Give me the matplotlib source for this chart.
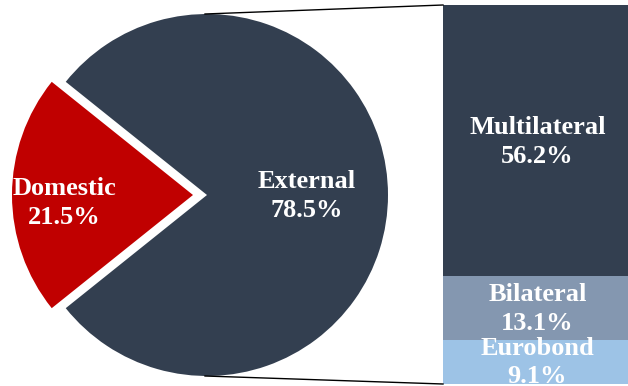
import numpy as np
import matplotlib.pyplot as plt
from matplotlib.patches import Rectangle

# pie: total debt split
pie_labels = ["Domestic", "External"]
pie_values = [21.5, 78.5]
pie_colors = ["#C00000", "#333F50"]

# bar: breakdown of external debt, bottom to top
bar_labels = ["Other", "Eurobond", "Bilateral", "Multilateral"]
bar_values = [0.1, 9.1, 13.1, 56.2]
bar_colors = ["#ED7D31", "#9DC3E6", "#8497B0", "#333F50"]

plt.rcParams['font.family'] = ['Liberation Serif', 'DejaVu Serif']

W, H = 628, 386
fig = plt.figure(figsize=(W / 100, H / 100), dpi=100)
ax = fig.add_axes([0, 0, 1, 1])

cx, cy, r = 207, 191, 181
start = 180 - pie_values[0] / 100 * 360 / 2
# explode is in data units here (pixels)
wedges, _ = ax.pie(pie_values, colors=pie_colors, center=(cx, cy), radius=r,
                   startangle=start, explode=[14, 0], frame=True,
                   wedgeprops=dict(linewidth=0))

# pie labels
lab_pos = {"Domestic": (64, 386 - 203), "External": (307, 386 - 196)}
for name, val in zip(pie_labels, pie_values):
    x, y = lab_pos[name]
    ax.text(x, y, f"{name}\n{val}%", color="white", ha="center", va="center",
            fontsize=19, fontweight="bold", linespacing=1.32)

# stacked bar
bx0, bx1 = 443, 630
scale = 379 / sum(bar_values)
bottom = 2
for name, val, col in zip(bar_labels, bar_values, bar_colors):
    h = val * scale
    ax.add_patch(Rectangle((bx0, bottom), bx1 - bx0, h, facecolor=col, linewidth=0))
    if name != "Other":
        ax.text((bx0 + 628) / 2 + 2, bottom + h / 2 - 1, f"{name}\n{val}%", color="white",
                ha="center", va="center", fontsize=19, fontweight="bold",
                linespacing=1.32)
    bottom += h
top = bottom

# connector lines
ax.plot([cx - 2, bx0], [cy + r, top], color="black", linewidth=1)
ax.plot([cx - 2, bx0], [cy - r, 2], color="black", linewidth=1)

ax.set_xlim(0, W)
ax.set_ylim(0, H)
ax.set_aspect("auto")
ax.axis("off")

fig.savefig("out.png", dpi=100)
